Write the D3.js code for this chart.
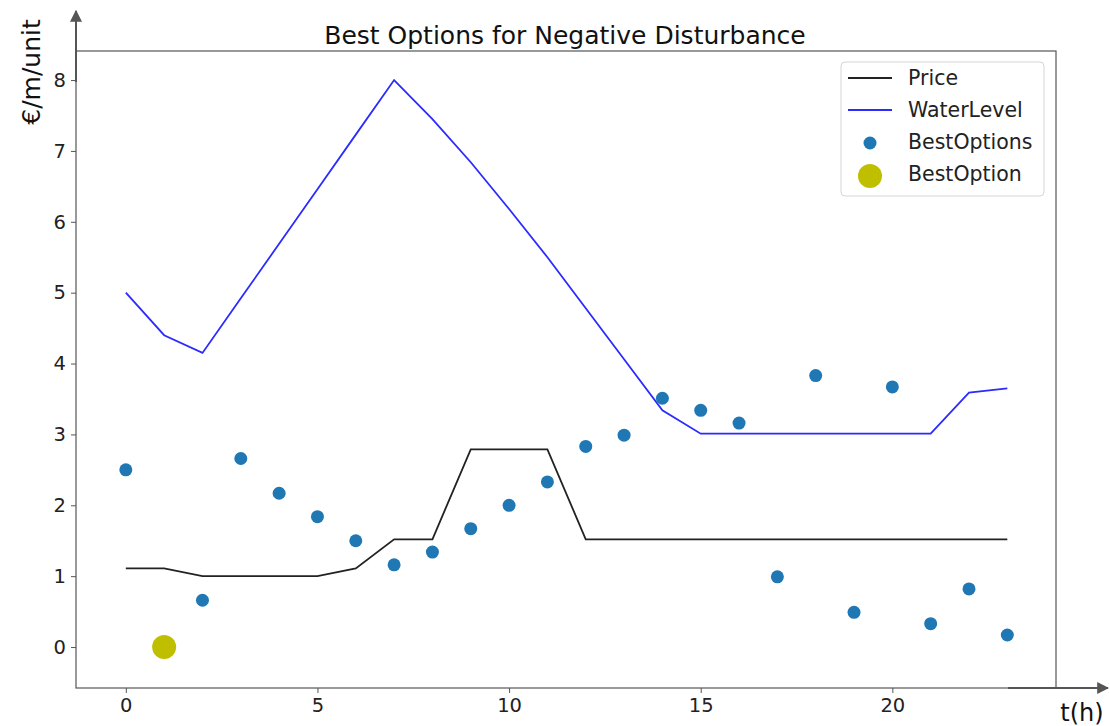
<!DOCTYPE html>
<html><head><meta charset="utf-8">
<script src="https://cdn.jsdelivr.net/npm/d3@7"></script>
<style>body{margin:0;background:#fff;font-family:"DejaVu Sans",sans-serif;}</style>
</head><body><svg id="c" width="1110" height="726"></svg>
<script>
const hours = d3.range(0, 24);
const price = [1.11,1.11,1.0,1.0,1.0,1.0,1.11,1.52,1.52,2.79,2.79,2.79,1.52,1.52,1.52,1.52,1.52,1.52,1.52,1.52,1.52,1.52,1.52,1.52];
const waterLevel = [5.0,4.40,4.15,4.92,5.69,6.46,7.23,8.0,7.45,6.84,6.18,5.50,4.78,4.06,3.34,3.01,3.01,3.01,3.01,3.01,3.01,3.01,3.59,3.65];
const bestOptions = [2.50,0.0,0.66,2.66,2.17,1.84,1.50,1.16,1.34,1.67,2.00,2.33,2.83,2.99,3.51,3.34,3.16,0.99,3.83,0.49,3.67,0.33,0.82,0.17];
const bestOption = [{t:1, v:0}];
const xTicks = [0,5,10,15,20];
const yTicks = [0,1,2,3,4,5,6,7,8];
const legendLabels = ["Price","WaterLevel","BestOptions","BestOption"];

const svg = d3.select("#c");
const L=76, R=1056, T=51, B=688;
const x = d3.scaleLinear().domain([-1.30, 24.27]).range([L, R]);
const y = d3.scaleLinear().domain([-0.578, 8.41]).range([B, T]);

// frame
svg.append("rect").attr("x",L).attr("y",T).attr("width",R-L).attr("height",B-T)
  .attr("fill","none").attr("stroke","#555").attr("stroke-width",1.2);

// axes
const xa = svg.append("g").attr("transform",`translate(0,${B})`)
  .call(d3.axisBottom(x).tickValues(xTicks).tickSize(5).tickPadding(5));
const ya = svg.append("g").attr("transform",`translate(${L},0)`)
  .call(d3.axisLeft(y).tickValues(yTicks).tickSize(5).tickPadding(5));
[xa,ya].forEach(a=>{
  a.select(".domain").remove();
  a.selectAll("line").attr("stroke","#555");
  a.selectAll("text").attr("font-family","DejaVu Sans").attr("font-size",19.5).attr("fill","#222");
});

// arrows
const defs = svg.append("defs");
defs.append("marker").attr("id","ah").attr("viewBox","0 0 10 10").attr("refX",9).attr("refY",5)
  .attr("markerWidth",6).attr("markerHeight",6).attr("orient","auto")
  .append("path").attr("d","M0,0 L10,5 L0,10 z").attr("fill","#555");
svg.append("line").attr("x1",L).attr("y1",82).attr("x2",L).attr("y2",11)
  .attr("stroke","#555").attr("stroke-width",2).attr("marker-end","url(#ah)");
svg.append("line").attr("x1",1008).attr("y1",B).attr("x2",1108).attr("y2",B)
  .attr("stroke","#555").attr("stroke-width",2).attr("marker-end","url(#ah)");

const line = d3.line().x((d,i)=>x(hours[i])).y(d=>y(d));
svg.append("path").datum(price).attr("d",line).attr("fill","none")
  .attr("stroke","#222").attr("stroke-width",1.8);
svg.append("path").datum(waterLevel).attr("d",line).attr("fill","none")
  .attr("stroke","#2b2bff").attr("stroke-width",1.8);

svg.append("g").selectAll("circle").data(bestOptions).join("circle")
  .attr("cx",(d,i)=>x(hours[i])).attr("cy",d=>y(d)).attr("r",6.5).attr("fill","#1f77b4");
svg.append("g").selectAll("circle").data(bestOption).join("circle")
  .attr("cx",d=>x(d.t)).attr("cy",d=>y(d.v)).attr("r",12).attr("fill","#bfbf00");

// title & labels
svg.append("text").attr("x",565).attr("y",44).attr("text-anchor","middle")
  .attr("font-family","DejaVu Sans").attr("font-size",25).attr("fill","#111")
  .text("Best Options for Negative Disturbance");
svg.append("text").attr("transform","translate(40,72) rotate(-90)").attr("text-anchor","middle")
  .attr("font-family","DejaVu Sans").attr("font-size",25).attr("fill","#111").text("€/m/unit");
svg.append("text").attr("x",1082).attr("y",721).attr("text-anchor","middle")
  .attr("font-family","DejaVu Sans").attr("font-size",24).attr("fill","#111").text("t(h)");

// legend
const lg = svg.append("g");
lg.append("rect").attr("x",841).attr("y",62).attr("width",203).attr("height",134).attr("rx",4)
  .attr("fill","#fff").attr("stroke","#d5d5d5");
const ly = [78,110,142,174];
lg.append("line").attr("x1",848).attr("x2",892).attr("y1",ly[0]).attr("y2",ly[0]).attr("stroke","#222").attr("stroke-width",1.8);
lg.append("line").attr("x1",848).attr("x2",892).attr("y1",ly[1]).attr("y2",ly[1]).attr("stroke","#2b2bff").attr("stroke-width",1.8);
lg.append("circle").attr("cx",870).attr("cy",ly[2]+1).attr("r",6.5).attr("fill","#1f77b4");
lg.append("circle").attr("cx",870).attr("cy",ly[3]+2).attr("r",12).attr("fill","#bfbf00");
lg.selectAll("text.l").data(legendLabels).join("text").attr("class","l")
  .attr("x",908).attr("y",(d,i)=>ly[i]+7).attr("font-family","DejaVu Sans").attr("font-size",20.5)
  .attr("fill","#222").text(d=>d);
</script></body></html>
